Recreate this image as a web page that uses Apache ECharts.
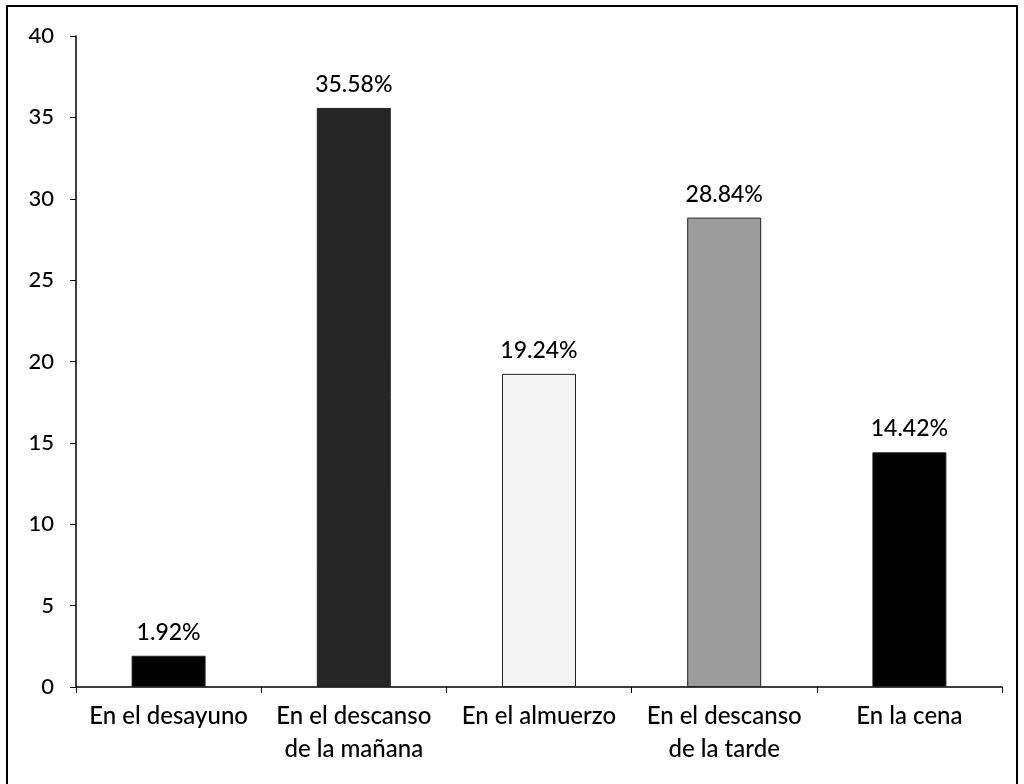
<!DOCTYPE html>
<html>
<head>
<meta charset="utf-8">
<script src="https://cdn.jsdelivr.net/npm/echarts@6/dist/echarts.min.js"></script>
<style>
  html, body { margin: 0; padding: 0; background: #fff; }
  #chart { width: 1024px; height: 784px; }
</style>
</head>
<body>
<div id="chart"></div>
<script>
// momentos del dia
var categorias = ['En el desayuno', 'En el descanso\nde la mañana', 'En el almuerzo', 'En el descanso\nde la tarde', 'En la cena'];
var valores = [1.92, 35.58, 19.24, 28.84, 14.42];
var colores = ['#000000', '#262626', '#f4f4f4', '#9c9c9c', '#000000'];

var myChart = echarts.init(document.getElementById('chart'));

var datos = valores.map(function (v, i) {
    return {
        value: v,
        itemStyle: { color: colores[i], borderColor: '#222', borderWidth: 1 }
    };
});

var option = {
    animation: false,
    textStyle: { fontFamily: 'Lato' },
    grid: { left: 76, right: 22, top: 36, bottom: 97 },
    graphic: [{
        type: 'rect',
        shape: { x: 7, y: 6, width: 1010, height: 790 },
        style: { fill: 'none', stroke: '#000', lineWidth: 2 },
        silent: true
    }],
    xAxis: {
        type: 'category',
        data: categorias,
        axisLine: { lineStyle: { color: '#000', width: 1.5 } },
        axisTick: { show: true, length: 6, lineStyle: { color: '#000' } },
        axisLabel: { color: '#000', fontSize: 24, fontWeight: 500, lineHeight: 33, margin: 13, interval: 0 }
    },
    yAxis: {
        type: 'value',
        min: 0,
        max: 40,
        interval: 5,
        splitLine: { show: false },
        axisLine: { show: true, lineStyle: { color: '#000', width: 1.5 } },
        axisTick: { show: true, length: 6, lineStyle: { color: '#000' } },
        axisLabel: { color: '#000', fontSize: 22, fontWeight: 500, margin: 22 }
    },
    series: [{
        type: 'bar',
        data: datos,
        barWidth: 74,
        label: {
            show: true,
            position: 'top',
            distance: 12,
            color: '#000',
            fontSize: 23,
            fontWeight: 500,
            formatter: function (p) { return p.value.toFixed(2) + '%'; }
        }
    }]
};

myChart.setOption(option);
</script>
</body>
</html>
